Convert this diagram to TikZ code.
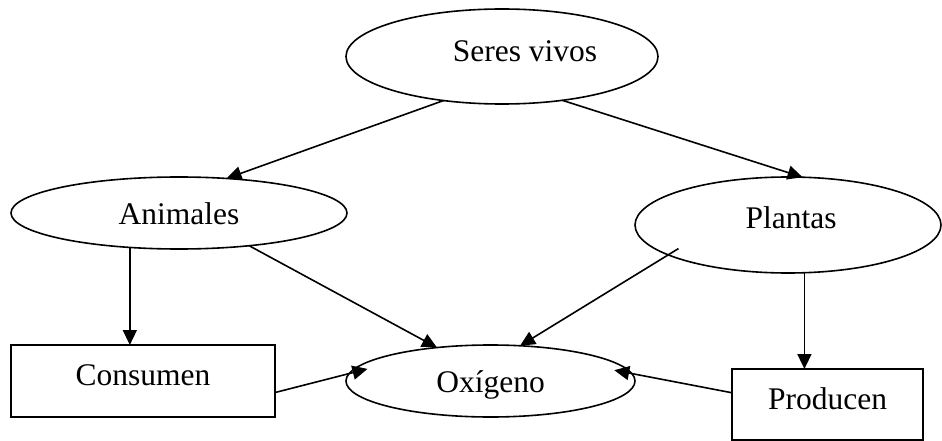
\documentclass[tikz,border=0pt]{standalone}
\usepackage{fontspec}
\setmainfont{Liberation Serif}
\usetikzlibrary{arrows.meta,shapes.geometric}
\begin{document}
\begin{tikzpicture}[x=1pt,y=-1pt,
  every node/.style={font=\fontsize{31.5}{38}\selectfont, inner sep=0pt, outer sep=0pt, line width=1.6pt, text depth=0pt},
  oval/.style={draw, ellipse},
  boxn/.style={draw, rectangle},
  conn/.style={-{Triangle[length=15pt,width=14pt]}, line width=1.6pt}]
\fill[white] (0,0) rectangle (942,441);
\useasboundingbox (0,0) rectangle (942,441);
% nodes
\node[oval, minimum width=312pt, minimum height=95pt, text height=11pt] (seres) at (502,56.5) {\hspace*{46pt}Seres vivos};
\node[oval, minimum width=336pt, minimum height=72pt, text height=22pt] (animales) at (179,213) {Animales};
\node[oval, minimum width=306pt, minimum height=96pt, text height=6pt] (plantas) at (788,225) {\hspace*{6pt}Plantas};
\node[oval, minimum width=289pt, minimum height=72pt, text height=22pt] (oxigeno) at (490.5,381) {Oxígeno};
\node[boxn, minimum width=264pt, minimum height=72pt, text height=8pt] (consumen) at (143,381) {Consumen};
\node[boxn, minimum width=191pt, minimum height=71pt, text height=9pt] (producen) at (827.5,404.5) {Producen};
% connectors
\draw[conn] (seres.217) -- (animales.36);
\draw[conn] (seres.324) -- (plantas.73);
\draw[conn] (animales.215) -- (animales.215 |- consumen.north);
\draw[conn] (animales.335) -- (oxigeno.148);
\draw[conn, shorten <=-12pt] (plantas.194) -- (oxigeno.50);
\draw[conn] (plantas.289) -- (plantas.289 |- producen.north);
\draw[conn, shorten >=-19pt] (consumen.355) -- (oxigeno.177);
\draw[conn, shorten >=-18pt] (producen.173) -- (oxigeno.3);
\end{tikzpicture}
\end{document}
